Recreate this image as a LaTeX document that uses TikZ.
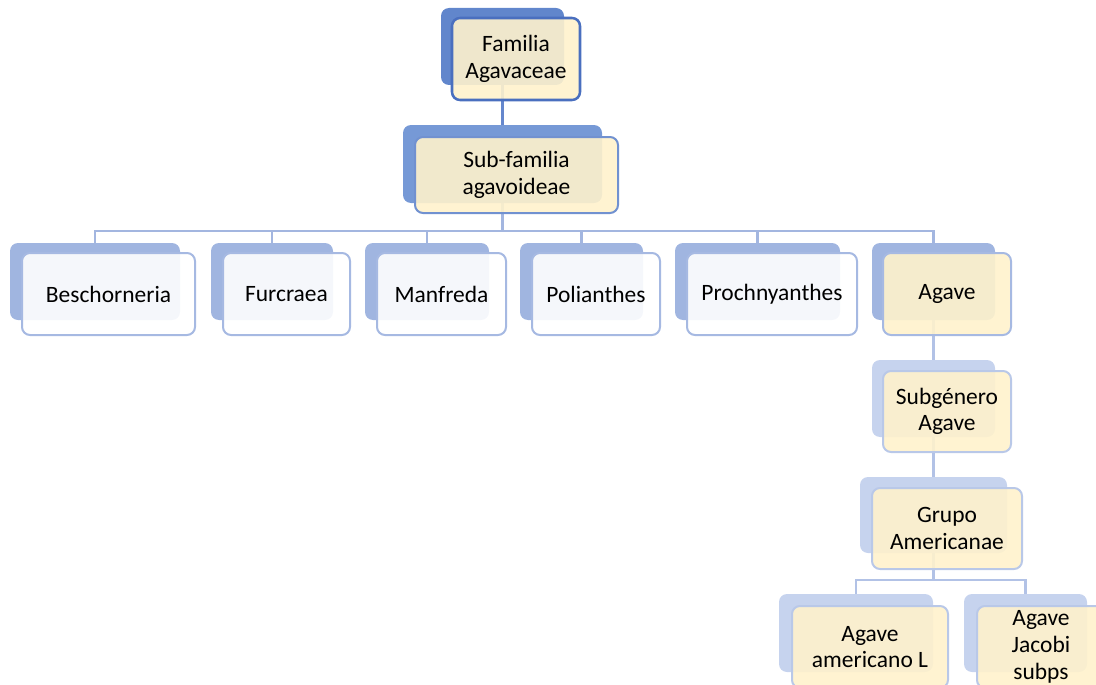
\documentclass[tikz,border=0pt]{standalone}
\usepackage{fontspec}
\setmainfont{Carlito}
\usetikzlibrary{backgrounds}
\definecolor{bkA}{HTML}{6186CC}
\definecolor{brA}{HTML}{4A6FBF}
\definecolor{bkB}{HTML}{7699D6}
\definecolor{brB}{HTML}{7191D0}
\definecolor{bkC}{HTML}{A0B5E0}
\definecolor{brC}{HTML}{A6B9E2}
\definecolor{bkD}{HTML}{C6D3EE}
\definecolor{brD}{HTML}{B9C8E8}
\definecolor{cream}{HTML}{FFF2CC}
\definecolor{lnA}{HTML}{6587CD}
\definecolor{lnC}{HTML}{A3B6E0}
\definecolor{lnD}{HTML}{B2C2E6}
\tikzset{
  sz/.style 2 args={minimum width=#1*0.75pt, minimum height=#2*0.75pt},
  back/.style={rectangle, rounded corners=6pt, inner sep=0pt, fill=#1},
  front/.style 2 args={rectangle, rounded corners=6pt, inner sep=0pt, align=center,
     font=\fontsize{17.6}{20}\selectfont, fill=#1, fill opacity=0.9, text opacity=1,
     draw=#2, line width=1.5pt},
  conn/.style={draw=#1, line width=1.8pt},
}
\begin{document}
\begin{tikzpicture}[x=0.75pt,y=-0.75pt]
\useasboundingbox (0,0) rectangle (1096,685);
\clip (0,0) rectangle (1096,685);
% back rectangles
\node[back=bkA, sz={123}{77}] (bFam) at (502.5,46.5) {};
\node[back=bkB, sz={199}{78}] (bSub) at (502.5,164) {};
\node[back=bkC, sz={170}{77}] (bBes) at (95,281.5) {};
\node[back=bkC, sz={122}{77}] (bFur) at (272,281.5) {};
\node[back=bkC, sz={124}{77}] (bMan) at (427,281.5) {};
\node[back=bkC, sz={123}{77}] (bPol) at (581.5,281.5) {};
\node[back=bkC, sz={165}{77}] (bPro) at (757.5,281.5) {};
\node[back=bkC, sz={123}{77}] (bAga) at (933.5,281.5) {};
\node[back=bkD, sz={123}{77}] (bSg) at (933.5,398.5) {};
\node[back=bkD, sz={147}{76}] (bGr) at (933.5,515) {};
\node[back=bkD, sz={154}{78}] (bAm) at (856,633) {};
\node[back=bkD, sz={123}{78}] (bJa) at (1025.5,633) {};
% front rectangles with text
\node[front={cream}{brA}, line width=1.9pt, sz={128}{82}] (fFam) at (516,59) {Familia\\Agavaceae};
\node[front={cream}{brB}, sz={203}{76}] (fSub) at (516.5,175) {Sub-familia\\agavoideae};
\node[front={white}{brC}, sz={173}{82}] (fBes) at (108.5,294) {Beschorneria};
\node[front={white}{brC}, sz={127}{82}] (fFur) at (286.5,294) {Furcraea};
\node[front={white}{brC}, sz={129}{82}] (fMan) at (441.5,294) {Manfreda};
\node[front={white}{brC}, sz={128}{82}] (fPol) at (596,294) {Polianthes};
\node[front={white}{brC}, sz={170}{82}] (fPro) at (772,294) {Prochnyanthes};
\node[front={cream}{brC}, sz={128}{82}] (fAga) at (947,294) {Agave};
\node[front={cream}{brD}, sz={128}{81}] (fSg) at (947,411.5) {Subgénero\\Agave};
\node[front={cream}{brD}, sz={150}{81}] (fGr) at (947,528.5) {Grupo\\Americanae};
\node[front={cream}{brD}, sz={156}{82}] (fAm) at (870,647) {Agave\\americano L};
\node[front={cream}{brD}, sz={128}{82}] (fJa) at (1041,647) {Agave\\Jacobi\\subps};
% connectors
\begin{pgfonlayer}{background}
\draw[conn=lnA] (bFam.south) -- (bSub.north);
\coordinate (busA) at (502.5,231);
\draw[conn=lnC] (bSub.south) -- (busA);
\foreach \c in {bBes,bFur,bMan,bPol,bPro,bAga} \draw[conn=lnC] (busA) -| (\c.north);
\draw[conn=lnD] (bAga.south) -- (bSg.north);
\draw[conn=lnD] (bSg.south) -- (bGr.north);
\coordinate (busB) at (933.5,580);
\draw[conn=lnD] (bGr.south) -- (busB);
\foreach \c in {bAm,bJa} \draw[conn=lnD] (busB) -| (\c.north);
\end{pgfonlayer}
\end{tikzpicture}
\end{document}
